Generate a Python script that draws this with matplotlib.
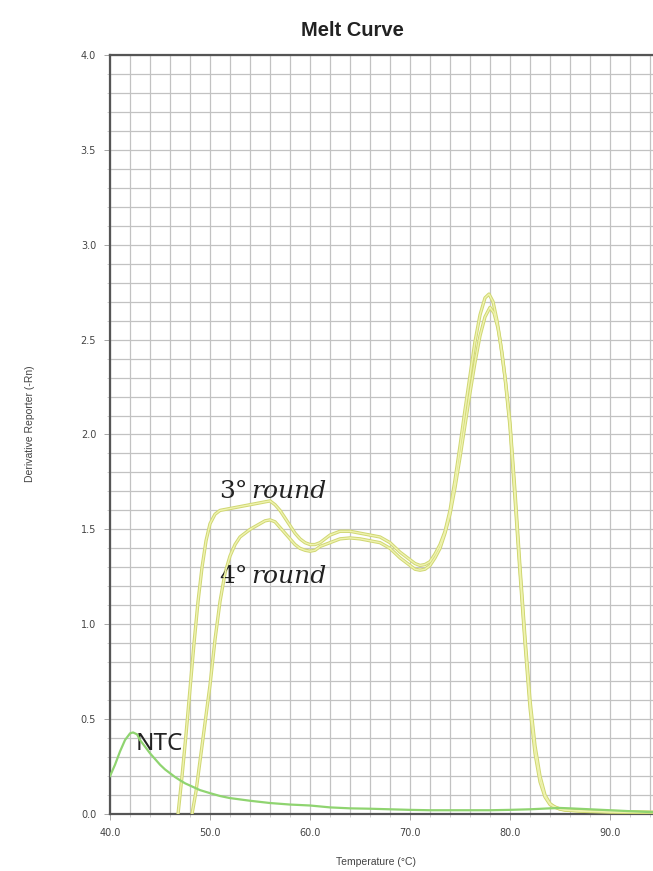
import matplotlib.pyplot as plt
import numpy as np

# melt curve samples (temperature in deg C, derivative reporter -Rn)
ntc_t = [40.0, 40.5, 41.0, 41.5, 42.0, 42.3, 42.7, 43.0, 43.5, 44.0, 44.5, 45.0, 45.5,
         46.0, 46.5, 47.0, 47.5, 48.0, 49.0, 50.0, 51.0, 52.0, 54.0, 56.0, 58.0, 60.0,
         62.0, 64.0, 66.0, 68.0, 70.0, 72.0, 75.0, 78.0, 80.0, 82.0, 84.0, 85.0, 86.0,
         88.0, 90.0, 92.0, 94.3]
ntc_d = [0.20, 0.26, 0.33, 0.39, 0.425, 0.43, 0.42, 0.39, 0.355, 0.32, 0.29, 0.26, 0.235,
         0.215, 0.195, 0.178, 0.162, 0.15, 0.126, 0.11, 0.095, 0.084, 0.07, 0.058, 0.05, 0.045,
         0.035, 0.03, 0.028, 0.025, 0.022, 0.02, 0.02, 0.02, 0.022, 0.025, 0.03, 0.032, 0.03,
         0.025, 0.02, 0.015, 0.01]

r3_t = [46.8, 47.2, 47.6, 48.0, 48.4, 48.8, 49.2, 49.6, 50.0, 50.5, 51.0, 52.0, 53.0,
        54.0, 55.0, 56.0, 56.5, 57.0, 57.5, 58.0, 58.5, 59.0, 59.5, 60.0, 60.5, 61.0,
        61.5, 62.0, 63.0, 64.0, 65.0, 66.0, 67.0, 68.0, 69.0, 70.0, 70.5, 71.0, 71.5,
        72.0, 72.5, 73.0, 73.5, 74.0, 74.5, 75.0, 75.5, 76.0, 76.5, 77.0, 77.5, 77.9,
        78.3, 78.7, 79.0, 79.5, 80.0, 80.5, 81.0, 81.5, 82.0, 82.5, 83.0, 83.5, 84.0,
        85.0, 87.0, 90.0, 94.3]
r3_d = [0.0, 0.2, 0.42, 0.66, 0.9, 1.12, 1.3, 1.44, 1.53, 1.58, 1.6, 1.61, 1.62,
        1.63, 1.64, 1.65, 1.63, 1.6, 1.56, 1.52, 1.48, 1.45, 1.43, 1.42, 1.42, 1.43,
        1.45, 1.47, 1.49, 1.49, 1.48, 1.47, 1.46, 1.43, 1.38, 1.34, 1.32, 1.31, 1.315,
        1.33, 1.37, 1.42, 1.49, 1.6, 1.76, 1.94, 2.13, 2.31, 2.49, 2.63, 2.72, 2.74,
        2.7, 2.6, 2.5, 2.3, 2.04, 1.66, 1.27, 0.9, 0.56, 0.32, 0.17, 0.09, 0.05,
        0.025, 0.015, 0.01, 0.008]

r4_t = [48.2, 48.6, 49.0, 49.5, 50.0, 50.5, 51.0, 51.5, 52.0, 52.5, 53.0, 54.0, 55.0,
        55.5, 56.0, 56.5, 57.0, 57.5, 58.0, 58.5, 59.0, 59.5, 60.0, 60.5, 61.0, 62.0,
        63.0, 64.0, 65.0, 66.0, 67.0, 68.0, 69.0, 70.0, 70.5, 71.0, 71.5, 72.0, 72.5,
        73.0, 73.5, 74.0, 74.5, 75.0, 75.5, 76.0, 76.5, 77.0, 77.5, 78.0, 78.4, 78.8,
        79.2, 79.6, 80.0, 80.5, 81.0, 81.5, 82.0, 82.5, 83.0, 83.5, 84.0, 84.5, 85.5,
        88.0, 94.3]
r4_d = [0.0, 0.12, 0.28, 0.48, 0.68, 0.92, 1.12, 1.27, 1.36, 1.42, 1.46, 1.5, 1.53,
        1.545, 1.55, 1.54, 1.51, 1.48, 1.45, 1.42, 1.4, 1.39, 1.385, 1.39, 1.41, 1.43,
        1.45, 1.455, 1.45, 1.44, 1.43, 1.4, 1.35, 1.31, 1.29, 1.285, 1.29, 1.31, 1.35,
        1.4, 1.48, 1.58, 1.72, 1.88, 2.05, 2.22, 2.38, 2.52, 2.62, 2.67, 2.64, 2.56,
        2.43, 2.26, 2.06, 1.7, 1.3, 0.93, 0.6, 0.36, 0.2, 0.1, 0.055, 0.035, 0.02,
        0.015, 0.01]

fig = plt.figure(figsize=(6.53, 8.71), dpi=100)
ax = fig.add_axes([0.1685, 0.0654, 0.8315, 0.8715])

ax.set_xlim(40, 94.3)
ax.set_ylim(0, 4.0)

ax.set_xticks(np.arange(40, 91, 10))
ax.set_xticklabels(['%.1f' % v for v in np.arange(40, 91, 10)])
ax.set_yticks(np.arange(0, 4.01, 0.5))
ax.set_yticklabels(['%.1f' % v for v in np.arange(0, 4.01, 0.5)])
ax.set_xticks(np.arange(40, 95, 2), minor=True)
ax.set_yticks(np.arange(0, 4.01, 0.1), minor=True)
ax.grid(which='both', color='#c2c2c2', lw=0.9)
ax.set_axisbelow(True)
ax.tick_params(which='major', length=4, width=0.6, color='#999999',
               labelsize=7, labelcolor='#444444', pad=6)
ax.tick_params(which='minor', length=2.5, width=0.5, color='#bbbbbb')

for s in ['left', 'bottom', 'top']:
    ax.spines[s].set_color('#555555')
    ax.spines[s].set_linewidth(1.6)
ax.spines['right'].set_visible(False)

# amplification products: darker rim under a pale core
for t, d in [(r3_t, r3_d), (r4_t, r4_d)]:
    ax.plot(t, d, color='#d0d772', lw=2.4, solid_capstyle='round', zorder=3)
    ax.plot(t, d, color='#eff3b0', lw=1.0, zorder=4)

ax.plot(ntc_t, ntc_d, color='#8fd470', lw=1.6, zorder=5)

serif = 'DejaVu Serif'
ax.text(50.9, 1.665, '3°', fontsize=18, family=serif, color='#222222', va='baseline')
ax.text(54.1, 1.665, 'round', fontsize=18, family=serif, style='italic',
        color='#222222', va='baseline')
ax.text(50.9, 1.22, '4°', fontsize=18, family=serif, color='#222222', va='baseline')
ax.text(54.1, 1.22, 'round', fontsize=18, family=serif, style='italic',
        color='#222222', va='baseline')
ax.text(42.6, 0.337, 'NTC', fontsize=17.5, family='Noto Sans', color='#222222',
        va='baseline')

fig.text(352 / 653, 1 - 31 / 871, 'Melt Curve', ha='center', va='center',
         fontsize=14.5, fontweight='bold', family='Liberation Sans', color='#222222')
fig.text(376 / 653, 1 - 862 / 871, 'Temperature (°C)', ha='center', va='center',
         fontsize=7.5, family='Liberation Sans', color='#444444')
fig.text(30 / 653, 1 - 424 / 871, 'Derivative Reporter (-Rn)', ha='center', va='center',
         rotation=90, fontsize=7.5, family='Liberation Sans', color='#444444')

fig.savefig('out.png', dpi=100)
